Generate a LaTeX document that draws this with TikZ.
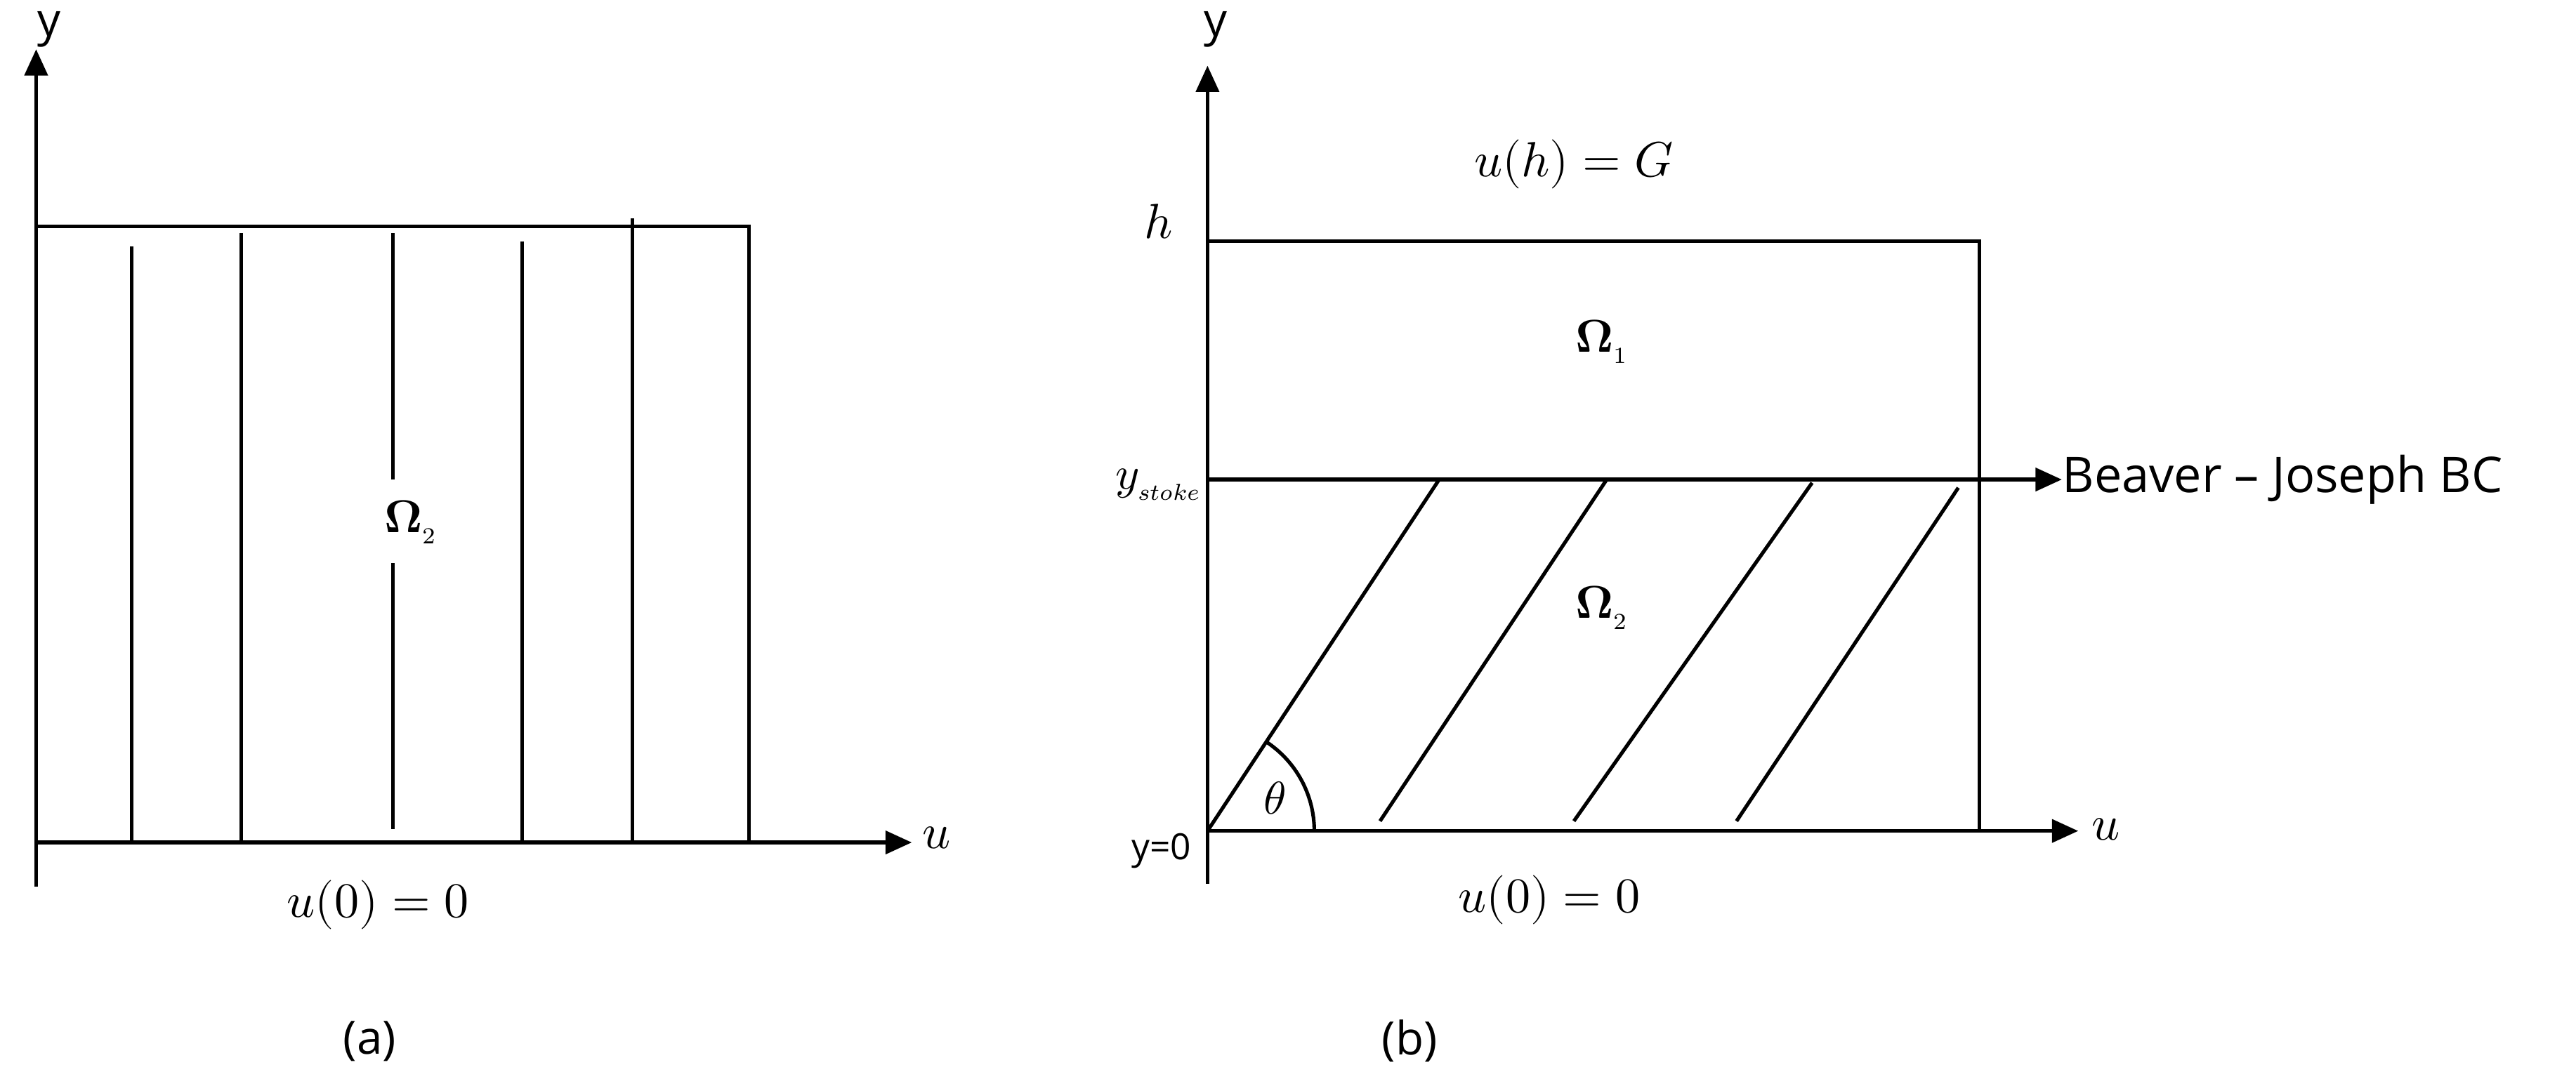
\documentclass[tikz,border=0pt]{standalone}
\usepackage{fontspec}
\setmainfont{Open Sans}
\usepackage{unicode-math}
\usetikzlibrary{arrows.meta}
\begin{document}
\begin{tikzpicture}[x=0.5pt,y=-0.5pt,
  ln/.style={line width=1.1pt},
  ax/.style={line width=1.1pt,-{Triangle[length=8pt,width=7pt]}},
  lbl/.style={font=\fontsize{14}{16}\selectfont,inner sep=0pt},
  big/.style={font=\fontsize{15}{18}\selectfont,inner sep=0pt}]
\useasboundingbox (0,0) rectangle (1568,657);
% panel a
\draw[ax] (22,540) -- (22,30);
\draw[ax] (22,513) -- (555,513);
\draw[ln] (22,138) rectangle (456,513);
\draw[ln] (80,150) -- (80,513);
\draw[ln] (147,142) -- (147,513);
\draw[ln] (239,142) -- (239,292);
\draw[ln] (239,343) -- (239,505);
\draw[ln] (318,147) -- (318,513);
\draw[ln] (385,133) -- (385,513);
\node[lbl] (ya) at (30,18) {y};
\node[big] (ua) at (570,510) {$u$};
\node[lbl] (om2a) at (250,318) {$\symbf{\Omega}_{\scriptscriptstyle 2}$};
\node[big] (bca) at (230,551) {$u(0)=0$};
\node[lbl] (capa) at (225,634) {(a)};
% panel b
\draw[ax] (735,538) -- (735,40);
\draw[ax] (735,506) -- (1265,506);
\draw[ln] (735,147) rectangle (1205,506);
\coordinate (s1) at (735,292);
\coordinate (s2) at (1205,292);
\node[big,anchor=west] (bj) at (1255,292) {Beaver – Joseph BC};
\draw[ln] (s1) -- (s2);
\draw[ax] (s2) -- (bj.west);
\draw[ln] (735,506) -- (876,292);
\draw[ln] (840,500) -- (978,292);
\draw[ln] (958,500) -- (1103,294);
\draw[ln] (1057,500) -- (1192,297);
\draw[ln] (800,506) arc[start angle=0,end angle=-56.6,radius=65];
\node[lbl] (th) at (776,486) {$\theta$};
\node[lbl] (yb) at (740,18) {y};
\node[big] (ub) at (1282,505) {$u$};
\node[big] (h) at (705,135) {$h$};
\node[big] (uh) at (958,100) {$u(h)=G$};
\node[lbl] (om1) at (975,208) {$\symbf{\Omega}_{\scriptscriptstyle 1}$};
\node[lbl] (om2b) at (975,370) {$\symbf{\Omega}_{\scriptscriptstyle 2}$};
\node[lbl] (ys) at (705,295) {$y_{\scriptscriptstyle stoke}$};
\node[font=\fontsize{11}{13}\selectfont,inner sep=0pt] (y0) at (707,518) {y=0};
\node[big] (bcb) at (943,548) {$u(0)=0$};
\node[lbl] (capb) at (858,634) {(b)};
\end{tikzpicture}
\end{document}
